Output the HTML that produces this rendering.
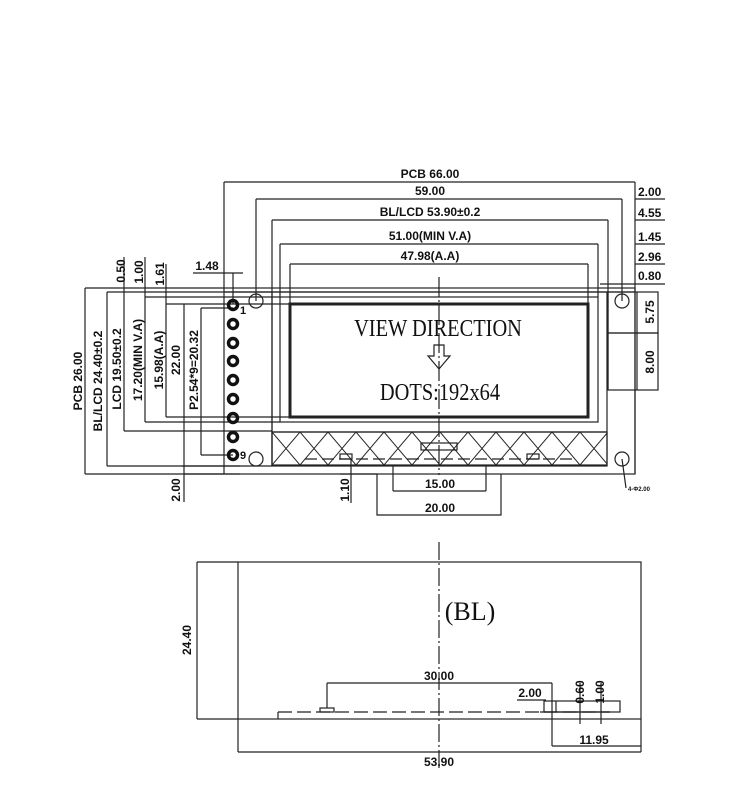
<!DOCTYPE html>
<html><head><meta charset="utf-8"><style>
html,body{margin:0;padding:0;background:#fff}
svg{display:block}
text{font-family:"Liberation Sans Narrow","Liberation Sans",sans-serif;fill:#111;font-weight:bold}
</style></head><body>
<svg width="750" height="800" viewBox="0 0 750 800" xmlns="http://www.w3.org/2000/svg">
<defs>
<pattern id="h" x="272" y="432" width="28" height="33" patternUnits="userSpaceOnUse">
<path d="M0 0L28 33M28 0L0 33" stroke="#222" stroke-width="1" fill="none"/>
</pattern>
</defs>
<g stroke="#222" stroke-width="1.2" fill="none">
<!-- PCB -->
<rect x="224" y="288" width="411" height="186"/>
<line x1="224" y1="292" x2="635" y2="292"/>
<!-- top dims -->
<line x1="224" y1="182" x2="635" y2="182"/>
<line x1="224" y1="182" x2="224" y2="288"/>
<line x1="635" y1="182" x2="635" y2="474"/>
<line x1="256" y1="199" x2="622" y2="199"/>
<line x1="256" y1="199" x2="256" y2="301"/>
<line x1="622" y1="199" x2="622" y2="301"/>
<line x1="272" y1="220" x2="608" y2="220"/>
<line x1="272" y1="220" x2="272" y2="466"/>
<line x1="608" y1="220" x2="608" y2="390"/>
<line x1="280" y1="244" x2="598" y2="244"/>
<line x1="280" y1="244" x2="280" y2="297"/>
<line x1="598" y1="244" x2="598" y2="297"/>
<line x1="290" y1="264" x2="588" y2="264"/>
<line x1="290" y1="264" x2="290" y2="304"/>
<line x1="588" y1="264" x2="588" y2="304"/>
<line x1="600" y1="284" x2="635" y2="284"/>
<!-- right labels underline -->
<line x1="635" y1="199" x2="665" y2="199"/>
<line x1="635" y1="220" x2="665" y2="220"/>
<line x1="635" y1="244" x2="665" y2="244"/>
<line x1="635" y1="264" x2="665" y2="264"/>
<line x1="635" y1="284" x2="665" y2="284"/>
<!-- right boxes -->
<rect x="608" y="292" width="50" height="41"/>
<rect x="608" y="333" width="50" height="57"/>
<line x1="637" y1="292" x2="637" y2="390"/>
<!-- holes -->
<circle cx="256" cy="301" r="7"/><circle cx="622" cy="301" r="7"/>
<circle cx="256" cy="459" r="7"/><circle cx="622" cy="459" r="7"/>
<line x1="622" y1="459" x2="626" y2="488"/>
<!-- LCD -->
<rect x="272" y="292" width="335" height="174"/>
<rect x="280" y="297" width="318" height="125"/>
<rect x="290" y="304" width="298" height="113" stroke-width="3"/>
<rect x="272" y="432" width="335" height="33" fill="url(#h)"/>
<line x1="272" y1="432" x2="607" y2="432"/>
<line x1="305" y1="459" x2="574" y2="459" stroke-dasharray="12,5"/>
<rect x="421" y="443" width="36" height="7"/>
<rect x="340" y="454" width="12" height="5"/>
<rect x="527" y="454" width="12" height="5"/>
<!-- centre line -->
<line x1="439" y1="277" x2="439" y2="475" stroke-dasharray="20,3,2,3"/>
<!-- tab -->
<polyline points="377,474 377,515 501,515 501,474"/>
<line x1="393" y1="466" x2="393" y2="491"/><line x1="486" y1="466" x2="486" y2="491"/>
<line x1="393" y1="491" x2="486" y2="491"/>
<line x1="351" y1="459" x2="351" y2="503"/>
<line x1="340" y1="474" x2="377" y2="474"/>
<!-- left dims -->
<line x1="85" y1="288" x2="85" y2="474"/><line x1="85" y1="288" x2="224" y2="288"/><line x1="85" y1="474" x2="224" y2="474"/>
<line x1="107" y1="292" x2="107" y2="466"/><line x1="107" y1="292" x2="272" y2="292"/><line x1="107" y1="466" x2="272" y2="466"/>
<line x1="124" y1="257" x2="124" y2="431"/><line x1="124" y1="431" x2="272" y2="431"/>
<line x1="145" y1="257" x2="145" y2="422"/><line x1="145" y1="297" x2="280" y2="297"/><line x1="145" y1="422" x2="280" y2="422"/>
<line x1="166" y1="264" x2="166" y2="417"/><line x1="166" y1="304" x2="290" y2="304"/><line x1="166" y1="417" x2="290" y2="417"/>
<line x1="184" y1="304" x2="184" y2="502"/><line x1="184" y1="474" x2="240" y2="474"/>
<line x1="201" y1="308" x2="201" y2="455"/><line x1="201" y1="308" x2="233" y2="308"/><line x1="201" y1="455" x2="233" y2="455"/>
<line x1="182" y1="466" x2="240" y2="466"/>
<line x1="193" y1="273" x2="243" y2="273"/><line x1="233" y1="273" x2="233" y2="304"/>
</g>
<!-- pins -->
<g stroke="#111" stroke-width="3.5" fill="none">
<circle cx="233" cy="305" r="4.5"/><circle cx="233" cy="324" r="4.5"/><circle cx="233" cy="343" r="4.5"/>
<circle cx="233" cy="361" r="4.5"/><circle cx="233" cy="380" r="4.5"/><circle cx="233" cy="399" r="4.5"/>
<circle cx="233" cy="418" r="4.5"/><circle cx="233" cy="437" r="4.5"/><circle cx="233" cy="455" r="4.5"/>
</g>
<text x="240" y="314" font-size="11">1</text><text x="240" y="459" font-size="11">9</text>
<!-- top labels -->
<g font-size="12" text-anchor="middle">
<text x="430" y="178">PCB 66.00</text>
<text x="430" y="195">59.00</text>
<text x="430" y="216">BL/LCD 53.90±0.2</text>
<text x="430" y="240">51.00(MIN V.A)</text>
<text x="430" y="260">47.98(A.A)</text>
<text x="440" y="488">15.00</text>
<text x="440" y="512">20.00</text>
<text x="207" y="270">1.48</text>
</g>
<g font-size="12">
<text x="638" y="196">2.00</text><text x="638" y="217">4.55</text><text x="638" y="241">1.45</text>
<text x="638" y="261">2.96</text><text x="638" y="280">0.80</text>
<text x="628" y="491" font-size="6">4-Φ2.00</text>
</g>
<g font-size="12" text-anchor="middle">
<text transform="translate(654,312) rotate(-90)">5.75</text>
<text transform="translate(654,362) rotate(-90)">8.00</text>
<text transform="translate(82,381) rotate(-90)">PCB 26.00</text>
<text transform="translate(102,381) rotate(-90)">BL/LCD 24.40±0.2</text>
<text transform="translate(121,369) rotate(-90)">LCD 19.50±0.2</text>
<text transform="translate(142,360) rotate(-90)">17.20(MIN V.A)</text>
<text transform="translate(163,360) rotate(-90)">15.98(A.A)</text>
<text transform="translate(180,360) rotate(-90)">22.00</text>
<text transform="translate(198,370) rotate(-90)">P2.54*9=20.32</text>
<text transform="translate(125,271) rotate(-90)">0.50</text>
<text transform="translate(143,272) rotate(-90)">1.00</text>
<text transform="translate(164,274) rotate(-90)">1.61</text>
<text transform="translate(180,490) rotate(-90)">2.00</text>
<text transform="translate(349,490) rotate(-90)">1.10</text>
</g>
<g font-family="Liberation Serif" font-weight="normal">
<text x="438" y="336" font-size="24" text-anchor="middle" style="font-family:'Liberation Serif',serif;font-weight:normal;transform:scale(0.85,1);transform-origin:438px 336px">VIEW DIRECTION</text>
<text x="440" y="400" font-size="24" text-anchor="middle" style="font-family:'Liberation Serif',serif;font-weight:normal;transform:scale(0.85,1);transform-origin:440px 400px">DOTS:192x64</text>
</g>
<path d="M434 345h10v11h6l-11 13-11-13h6z" fill="none" stroke="#222" stroke-width="1.2"/>
<!-- bottom drawing -->
<g stroke="#222" stroke-width="1.2" fill="none">
<rect x="238" y="562" width="403" height="157"/>
<line x1="197" y1="562" x2="238" y2="562"/><line x1="197" y1="719" x2="238" y2="719"/>
<line x1="197" y1="562" x2="197" y2="719"/>
<line x1="238" y1="719" x2="238" y2="752"/><line x1="641" y1="719" x2="641" y2="752"/>
<line x1="238" y1="752" x2="641" y2="752"/>
<line x1="439" y1="542" x2="439" y2="770" stroke-dasharray="18,3,2,3"/>
<line x1="278" y1="712" x2="610" y2="712" stroke-dasharray="14,5"/>
<line x1="278" y1="712" x2="278" y2="719"/>
<rect x="320" y="708" width="14" height="4"/>
<line x1="327" y1="683" x2="552" y2="683"/><line x1="327" y1="683" x2="327" y2="708"/>
<line x1="552" y1="683" x2="552" y2="746"/>
<line x1="552" y1="746" x2="641" y2="746"/>
<rect x="544" y="701" width="76" height="11"/>
<line x1="556" y1="701" x2="556" y2="712"/>
<line x1="580" y1="683" x2="580" y2="724"/><line x1="601" y1="683" x2="601" y2="724"/>
<line x1="517" y1="700" x2="546" y2="700"/>
<line x1="540" y1="712" x2="610" y2="712"/>
</g>
<text x="470" y="620" font-size="26" text-anchor="middle" style="font-family:'Liberation Serif',serif;font-weight:normal">(BL)</text>
<g font-size="12" text-anchor="middle">
<text x="439" y="680">30.00</text>
<text x="530" y="697">2.00</text>
<text x="439" y="766">53.90</text>
<text x="594" y="744">11.95</text>
<text transform="translate(191,640) rotate(-90)">24.40</text>
<text transform="translate(584,692) rotate(-90)">0.60</text>
<text transform="translate(604,692) rotate(-90)">1.00</text>
</g>
</svg>
</body></html>
